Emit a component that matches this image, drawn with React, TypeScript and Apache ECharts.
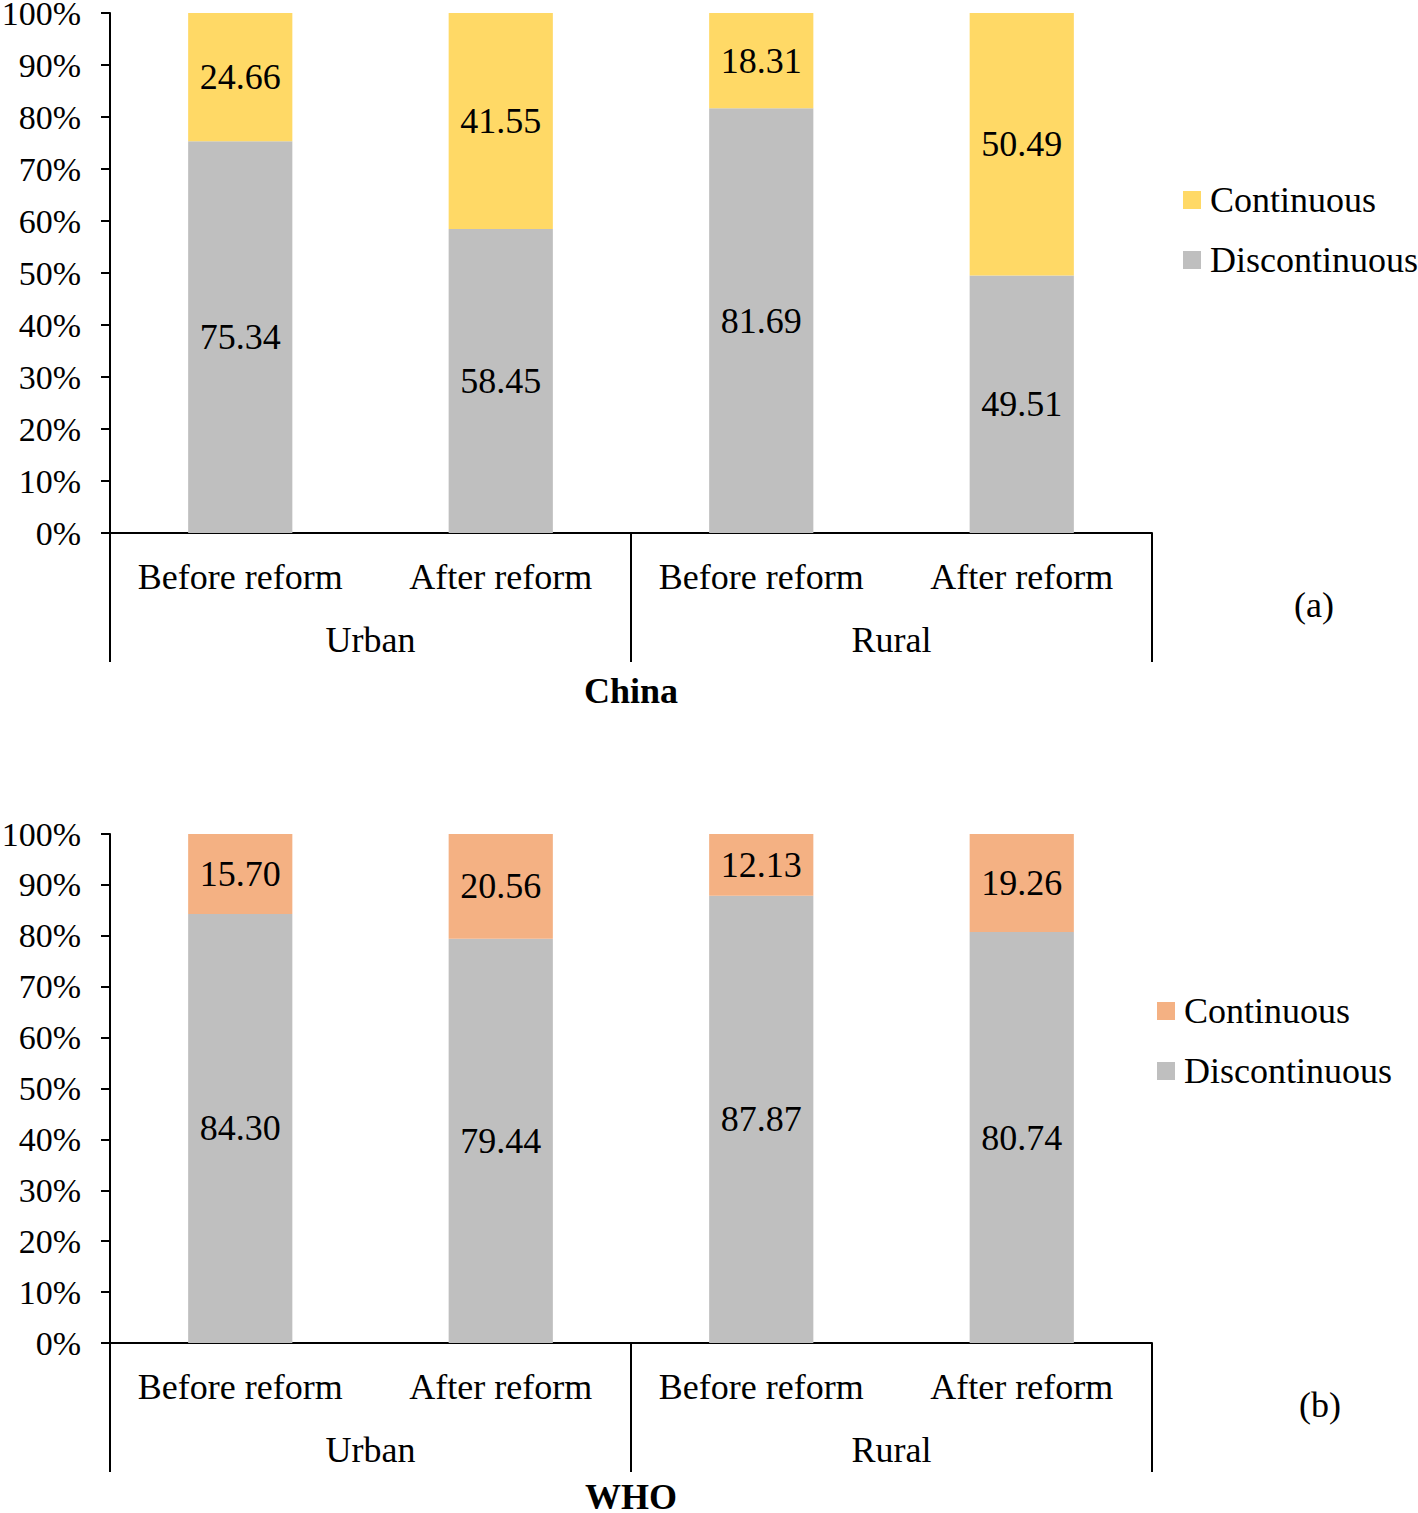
import React, { useEffect, useRef } from "react";
import * as echarts from "echarts";

const categories = ["Before reform", "After reform", "Before reform", "After reform"];
const groups = ["Urban", "Rural"];
const chinaDiscontinuous = [75.34, 58.45, 81.69, 49.51];
const chinaContinuous = [24.66, 41.55, 18.31, 50.49];
const whoDiscontinuous = [84.3, 79.44, 87.87, 80.74];
const whoContinuous = [15.7, 20.56, 12.13, 19.26];
const panelTitles = ["China", "WHO"];
const panelTags = ["(a)", "(b)"];

const FONT = "Liberation Serif";
const GRAY = "#BFBFBF";
const YELLOW = "#FFD966";
const ORANGE = "#F4B183";

export default function App() {
  const ref = useRef<HTMLDivElement>(null);
  useEffect(() => {
    document.body.style.margin = "0";
    const chart = echarts.init(ref.current!, null, { renderer: "svg" });
    const grids = [
      { left: 110, right: 266, top: 13, height: 520, outerBoundsMode: "none", containLabel: false },
      { left: 110, right: 266, top: 834, height: 509, outerBoundsMode: "none", containLabel: false },
    ];
    const xAxis: any[] = [];
    const yAxis: any[] = [];
    [0, 1].forEach((g) => {
      xAxis.push({
        type: "category",
        gridIndex: g,
        data: categories,
        position: "bottom",
        axisLine: { show: true, lineStyle: { color: "#000", width: 2 } },
        axisTick: { show: false },
        axisLabel: { margin: 26, fontSize: 36, fontFamily: FONT, color: "#000", interval: 0 },
      });
      xAxis.push({
        type: "category",
        gridIndex: g,
        data: groups,
        position: "bottom",
        axisLine: { show: false },
        axisTick: { show: true, length: 129, interval: 0, lineStyle: { color: "#000", width: 2 } },
        axisLabel: { margin: 89, fontSize: 36, fontFamily: FONT, color: "#000", interval: 0 },
      });
      yAxis.push({
        type: "value",
        gridIndex: g,
        min: 0,
        max: 100,
        interval: 10,
        axisLine: { show: true, lineStyle: { color: "#000", width: 2 } },
        axisTick: { show: true, length: 9, lineStyle: { color: "#000", width: 2 } },
        splitLine: { show: false },
        axisLabel: {
          formatter: "{value}%",
          margin: 29,
          fontSize: 34,
          lineHeight: 26,
          fontFamily: FONT,
          color: "#000",
        },
      });
    });
    const label = {
      show: true,
      position: "inside",
      fontSize: 36,
      fontFamily: FONT,
      color: "#000",
      formatter: (p: any) => Number(p.value).toFixed(2),
    };
    const mk = (name: string, data: number[], color: string, g: number) => ({
      name,
      type: "bar",
      stack: "s" + g,
      xAxisIndex: g * 2,
      yAxisIndex: g,
      data,
      barWidth: "40%",
      itemStyle: { color },
      label,
    });
    const legendBase = {
      orient: "vertical",
      padding: 0,
      itemWidth: 18,
      itemHeight: 18,
      itemGap: 24,
      icon: "rect",
      selectedMode: false,
      textStyle: { fontSize: 36, fontFamily: FONT, color: "#000", lineHeight: 36, padding: [0, 0, 0, 4] },
    };
    const titleText = (text: string, left: number, top: number, bold: boolean) => ({
      text,
      left,
      top,
      textAlign: "center",
      padding: 0,
      textStyle: { fontSize: 36, fontFamily: FONT, color: "#000", fontWeight: bold ? "bold" : "normal", lineHeight: 26 },
    });
    chart.setOption({
      animation: false,
      backgroundColor: "#fff",
      grid: grids,
      xAxis,
      yAxis,
      title: [
        titleText(panelTitles[0], 631, 678, true),
        titleText(panelTags[0], 1314, 592, false),
        titleText(panelTitles[1], 631, 1484, true),
        titleText(panelTags[1], 1320, 1392, false),
      ],
      legend: [
        {
          ...legendBase,
          left: 1183,
          top: 182,
          data: [
            { name: "Continuous", itemStyle: { color: YELLOW } },
            { name: "Discontinuous", itemStyle: { color: GRAY } },
          ],
        },
        {
          ...legendBase,
          left: 1157,
          top: 993,
          data: [
            { name: "Continuous", itemStyle: { color: ORANGE } },
            { name: "Discontinuous", itemStyle: { color: GRAY } },
          ],
        },
      ],
      series: [
        mk("Discontinuous", chinaDiscontinuous, GRAY, 0),
        mk("Continuous", chinaContinuous, YELLOW, 0),
        mk("Discontinuous", whoDiscontinuous, GRAY, 1),
        mk("Continuous", whoContinuous, ORANGE, 1),
      ],
    });
    return () => chart.dispose();
  }, []);
  return <div ref={ref} style={{ width: 1418, height: 1513 }} />;
}
